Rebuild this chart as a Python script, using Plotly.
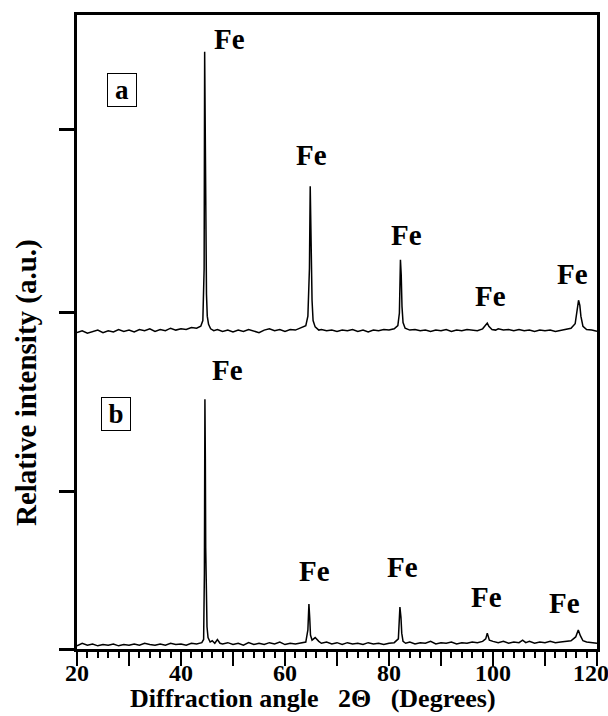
import plotly.graph_objects as go

# ---- data ----
two_theta_a = [20, 21, 22, 23, 24, 25, 26, 27, 28, 29, 30, 31, 32, 33, 34, 35, 36, 37, 38, 39, 40, 41, 42, 43,
               43.8, 44.2, 44.45, 44.55, 44.62, 44.7, 44.8, 44.9, 45.05, 45.3, 45.7, 46.3, 47,
               48, 49, 50, 51, 52, 53, 54, 55, 56, 57, 58, 59, 60, 61, 62, 63,
               64, 64.4, 64.7, 64.85, 64.95, 65.05, 65.2, 65.4, 65.8, 66.5, 67,
               68, 69, 70, 71, 72, 73, 74, 75, 76, 77, 78, 79, 80, 81,
               81.7, 82.0, 82.2, 82.35, 82.5, 82.7, 83.1,
               84, 85, 86, 87, 88, 89, 90, 91, 92, 93, 94, 95, 96, 97, 98,
               98.6, 98.9, 99.2, 99.8, 100.5,
               101, 102, 103, 104, 105, 106, 107, 108, 109, 110, 111, 112, 113, 114, 115,
               115.8, 116.2, 116.45, 116.7, 116.9, 117.3,
               118, 119, 120]
intensity_a = [49.9, 50.2, 49.8, 50.1, 50.3, 49.9, 50.2, 50.0, 50.4, 50.1, 50.3, 50.0, 50.4, 50.2, 50.5, 50.1,
               50.4, 50.2, 50.6, 50.3, 50.5, 50.4, 50.7, 50.6,
               50.9, 51.8, 60.0, 94.2, 85.0, 64.0, 63.0, 56.0, 52.5, 51.2, 50.5, 50.2, 50.4,
               50.1, 50.3, 50.0, 50.3, 50.1, 50.4, 50.2, 49.9, 50.3, 50.5, 50.2, 50.4, 50.1, 50.4, 50.3, 50.6,
               51.0, 52.5, 60.0, 73.0, 66.0, 63.0, 55.0, 51.8, 50.8, 50.3, 50.4,
               50.2, 50.3, 50.1, 50.3, 50.2, 50.4, 50.1, 50.3, 50.0, 50.3, 50.2, 50.4, 50.3, 50.5,
               51.0, 53.0, 61.4, 59.0, 54.0, 51.5, 50.6,
               50.3, 50.4, 50.2, 50.3, 50.1, 50.3, 50.2, 50.4, 50.1, 50.3, 50.2, 50.4, 50.3, 50.2, 50.5,
               51.0, 51.4, 50.9, 50.4, 50.3,
               50.5, 50.3, 50.4, 50.2, 50.4, 50.2, 50.3, 50.1, 50.3, 50.2, 50.3, 50.1, 50.3, 50.4, 50.6,
               51.3, 53.5, 55.0, 54.2, 52.5, 50.9,
               50.4, 50.3, 50.1]

two_theta_b = [20, 21, 22, 23, 24, 25, 26, 27, 28, 29, 30, 31, 32, 33, 34, 35, 36, 37, 38, 39, 40, 41, 42, 43,
               44, 44.35, 44.5, 44.6, 44.68, 44.75, 44.85, 45.0, 45.2, 45.6, 46, 46.5, 47, 47.5, 48,
               49, 50, 51, 52, 53, 54, 55, 56, 57, 58, 59, 60, 61, 62, 63,
               64, 64.4, 64.6, 64.75, 64.9, 65.2, 65.8, 66.5, 67,
               68, 69, 70, 71, 72, 73, 74, 75, 76, 77, 78, 79, 80, 81,
               81.8, 82.1, 82.3, 82.45, 82.7, 83.2,
               84, 85, 86, 87, 88, 89, 90, 91, 92, 93, 94, 95, 96, 97, 98,
               98.6, 98.9, 99.3,
               100, 101, 102, 103, 104, 105,
               105.7, 106.3,
               107, 108, 109, 110, 111, 112, 113, 114, 115,
               115.9, 116.4, 116.8, 117.3,
               118, 119, 120]
intensity_b = [0.5, 0.9, 0.6, 0.8, 0.5, 0.7, 0.6, 0.8, 0.5, 0.7, 0.6, 0.8, 0.6, 0.9, 0.7, 0.6, 0.8, 0.6, 0.9,
               0.7, 0.8, 0.6, 0.9, 0.8,
               1.0, 1.5, 12.0, 39.4, 30.0, 16.0, 8.0, 3.5, 1.8, 1.1, 1.3, 0.9, 1.5, 0.9, 0.8,
               1.0, 0.7, 0.9, 0.6, 1.0, 0.7, 0.9, 0.7, 1.0, 0.8, 1.1, 0.7, 0.9, 0.8, 1.0,
               1.1, 3.0, 7.1, 5.0, 2.2, 1.4, 1.8, 1.2, 0.9,
               1.1, 0.8, 1.0, 0.7, 1.0, 0.8, 0.9, 0.7, 1.0, 0.8, 0.9, 0.7, 0.9, 1.0,
               1.6, 6.6, 5.0, 2.5, 1.2, 0.9,
               1.1, 0.8, 1.0, 0.9, 1.2, 0.8, 1.0, 0.9, 1.1, 0.8, 1.0, 0.9, 1.1, 1.0, 1.2,
               1.6, 2.5, 1.4,
               1.2, 1.0, 1.2, 0.9, 1.1, 1.0,
               1.4, 1.0,
               1.2, 0.9, 1.1, 1.0, 1.2, 1.0, 1.1, 1.2, 1.3,
               1.9, 3.0, 2.1, 1.3,
               1.1, 1.0, 0.9]

label_text = "Fe"
labels_a_x = [49.4, 65.0, 83.3, 99.6, 115.2]
labels_a_y = [96.2, 77.9, 65.3, 55.7, 59.1]
labels_b_x = [49.0, 65.6, 82.5, 98.8, 113.7]
labels_b_y = [44.0, 12.3, 12.9, 8.2, 7.3]

panel_names = ["a", "b"]
panel_x = [28.6, 27.5]
panel_y = [88.2, 37.1]

x_major = [20, 30, 40, 50, 60, 70, 80, 90, 100, 110, 120]
x_major_text = ["20", "", "40", "", "60", "", "80", "", "100", "", "120\u00a0\u00a0"]
y_ticks = [0, 24.8, 53.0, 81.9]

SP = "\u00a0\u00a0\u00a0"
x_title = "Diffraction angle" + SP + "2\u0398" + SP + "(Degrees)"
y_title = "Relative intensity (a.u.)"

FONT = "Liberation Serif"

fig = go.Figure()
for xs, ys in [(two_theta_a, intensity_a), (two_theta_b, intensity_b)]:
    fig.add_trace(go.Scatter(x=xs, y=ys, mode="lines",
                             line=dict(color="black", width=1.5), showlegend=False,
                             hoverinfo="skip"))

ann = []
for xs, ys in [(labels_a_x, labels_a_y), (labels_b_x, labels_b_y)]:
    for x, y in zip(xs, ys):
        ann.append(dict(x=x, y=y, xref="x", yref="y", text=label_text, showarrow=False,
                        xanchor="center", yanchor="middle",
                        font=dict(family=FONT, size=29, color="black", weight="bold")))
for name, x, y in zip(panel_names, panel_x, panel_y):
    ann.append(dict(x=x, y=y, xref="x", yref="y", text=name, showarrow=False,
                    xanchor="center", yanchor="middle",
                    font=dict(family=FONT, size=27, color="black", weight="bold"),
                    bordercolor="black", borderwidth=1, borderpad=0, width=28, height=32))
ann.append(dict(x=(313 - 77) / 520, y=-(698 - 649) / 634, xref="paper", yref="paper",
                text=x_title, showarrow=False, xanchor="center", yanchor="middle",
                font=dict(family=FONT, size=26, color="black", weight="bold")))
ann.append(dict(x=-(77 - 27) / 520, y=(649 - 383) / 634, xref="paper", yref="paper",
                text=y_title, showarrow=False, textangle=-90, xanchor="center", yanchor="middle",
                font=dict(family=FONT, size=29, color="black", weight="bold")))

fig.update_layout(
    width=608, height=716,
    margin=dict(l=77, r=11, t=15, b=67),
    paper_bgcolor="white", plot_bgcolor="white",
    annotations=ann,
    xaxis=dict(range=[20, 120], showgrid=False, zeroline=False, automargin=False,
               showline=True, linecolor="black", linewidth=3, mirror=True,
               tickmode="array", tickvals=x_major, ticktext=x_major_text,
               ticks="outside", ticklen=14, tickwidth=2, tickcolor="black",
               ticklabeloverflow="allow", ticklabelstandoff=-14,
               tickfont=dict(family=FONT, size=24, color="black", weight="bold"),
               minor=dict(dtick=2, ticks="outside", ticklen=6, tickwidth=1.5, tickcolor="black")),
    yaxis=dict(range=[0, 100], showgrid=False, zeroline=False, automargin=False,
               showline=True, linecolor="black", linewidth=3, mirror=True,
               tickmode="array", tickvals=y_ticks, ticktext=["", "", "", ""],
               ticks="outside", ticklen=15, tickwidth=2.5, tickcolor="black"),
)

fig.write_html("out.html")
